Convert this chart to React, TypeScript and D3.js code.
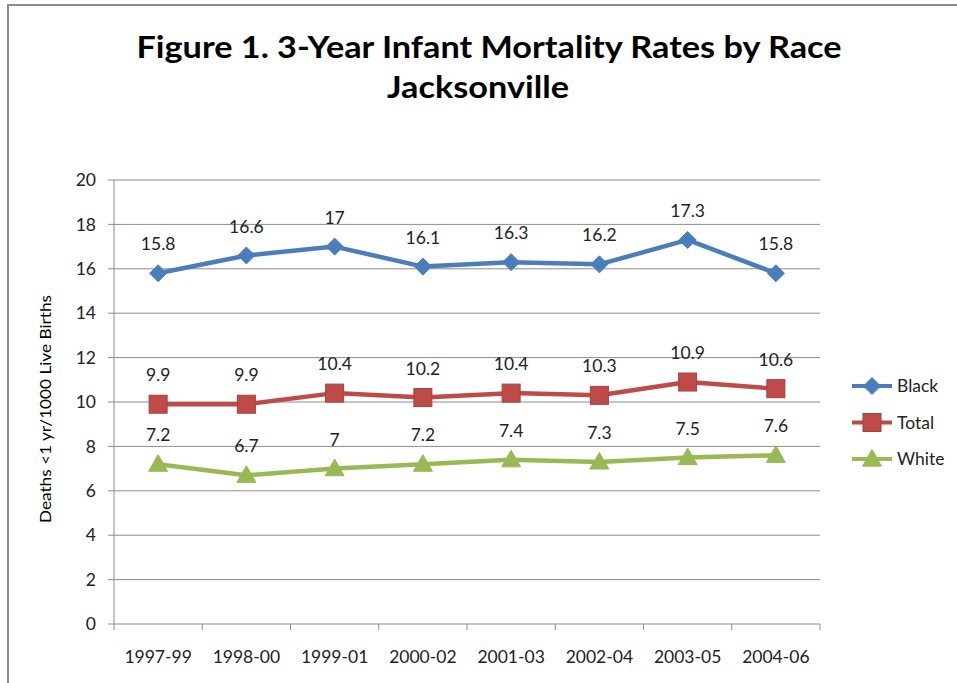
import React from "react";
import * as d3 from "d3";

const categories = ["1997-99", "1998-00", "1999-01", "2000-02", "2001-03", "2002-04", "2003-05", "2004-06"];
const blackValues = [15.8, 16.6, 17, 16.1, 16.3, 16.2, 17.3, 15.8];
const totalValues = [9.9, 9.9, 10.4, 10.2, 10.4, 10.3, 10.9, 10.6];
const whiteValues = [7.2, 6.7, 7, 7.2, 7.4, 7.3, 7.5, 7.6];
const yTicks = [0, 2, 4, 6, 8, 10, 12, 14, 16, 18, 20];
const seriesNames = ["Black", "Total", "White"];

const W = 957, H = 683;
const left = 114, right = 820, top = 180, bottom = 624;
const font = "Lato, 'Open Sans', sans-serif";

const series = [
  { name: seriesNames[0], values: blackValues, color: "#4a7ebb", marker: "diamond" },
  { name: seriesNames[1], values: totalValues, color: "#be4b48", marker: "square" },
  { name: seriesNames[2], values: whiteValues, color: "#98b954", marker: "triangle" },
];

function Marker({ type, x, y, color }: { type: string; x: number; y: number; color: string }) {
  if (type === "diamond") {
    const s = 8.5;
    return <path d={`M${x},${y - s}L${x + s},${y}L${x},${y + s}L${x - s},${y}Z`} fill={color} stroke={color} strokeWidth={1} />;
  }
  if (type === "square") {
    const s = 9;
    return <rect x={x - s} y={y - s} width={2 * s} height={2 * s} fill={color} stroke={d3.color(color)!.darker(0.4).toString()} strokeWidth={1} />;
  }
  const s = 9.5;
  return <path d={`M${x},${y - s}L${x + s},${y + s * 0.75}L${x - s},${y + s * 0.75}Z`} fill={color} stroke={color} strokeWidth={1} />;
}

export default function App() {
  const x = d3.scaleBand<string>().domain(categories).range([left, right]);
  const y = d3.scaleLinear().domain([0, 20]).range([bottom, top]);
  const cx = (c: string) => (x(c) as number) + x.bandwidth() / 2;
  const line = d3.line<number>().x((_, i) => cx(categories[i])).y((d) => y(d));
  const boundaries = categories.map((c) => x(c) as number).concat([right]);

  return (
    <svg width={W} height={H} style={{ position: "absolute", left: 0, top: 0, background: "#fff" }}>
      <rect x={8} y={5} width={W + 20} height={H + 20} fill="#fff" stroke="#8a8a8a" strokeWidth={2} />
      <text x={489} y={58} textAnchor="middle" fontFamily={font} fontWeight="bold" fontSize={31} fill="#000" textLength={705} lengthAdjust="spacingAndGlyphs">
        Figure 1. 3-Year Infant Mortality Rates by Race
      </text>
      <text x={478} y={98} textAnchor="middle" fontFamily={font} fontWeight="bold" fontSize={31} fill="#000" textLength={182} lengthAdjust="spacingAndGlyphs">
        Jacksonville
      </text>
      {yTicks.map((t) => (
        <g key={t}>
          <line x1={left - 6} x2={right} y1={y(t)} y2={y(t)} stroke="#8c8c8c" strokeWidth={1} />
          <text x={96} y={y(t)} dy="0.35em" textAnchor="end" fontFamily={font} fontSize={17.5} fill="#222">
            {t}
          </text>
        </g>
      ))}
      <line x1={left} x2={left} y1={top} y2={bottom} stroke="#8c8c8c" strokeWidth={1} />
      {boundaries.map((b, i) => (
        <line key={i} x1={b} x2={b} y1={bottom} y2={bottom + 6} stroke="#8c8c8c" strokeWidth={1} />
      ))}
      {categories.map((c) => (
        <text key={c} x={cx(c)} y={663} textAnchor="middle" fontFamily={font} fontSize={17.5} fill="#222">
          {c}
        </text>
      ))}
      <text transform={`translate(51,409) rotate(-90)`} textAnchor="middle" fontFamily={font} fontSize={15.5} fill="#000" textLength={228} lengthAdjust="spacingAndGlyphs">
        {"Deaths <1 yr/1000 Live Births"}
      </text>
      {series.map((s) => (
        <g key={s.name}>
          <path d={line(s.values) as string} fill="none" stroke={s.color} strokeWidth={4.5} strokeLinejoin="round" />
          {s.values.map((v, i) => (
            <Marker key={i} type={s.marker} x={cx(categories[i])} y={y(v)} color={s.color} />
          ))}
          {s.values.map((v, i) => (
            <text key={"l" + i} x={cx(categories[i])} y={y(v) - 29} dy="0.35em" textAnchor="middle" fontFamily={font} fontSize={17.5} fill="#222">
              {String(v)}
            </text>
          ))}
        </g>
      ))}
      {series.map((s, i) => {
        const ly = 386 + i * 36.5;
        return (
          <g key={"lg" + s.name}>
            <line x1={852} x2={892} y1={ly} y2={ly} stroke={s.color} strokeWidth={4} />
            <Marker type={s.marker} x={872} y={ly} color={s.color} />
            <text x={897} y={ly} dy="0.35em" fontFamily={font} fontSize={17.5} fill="#222">
              {s.name}
            </text>
          </g>
        );
      })}
    </svg>
  );
}
